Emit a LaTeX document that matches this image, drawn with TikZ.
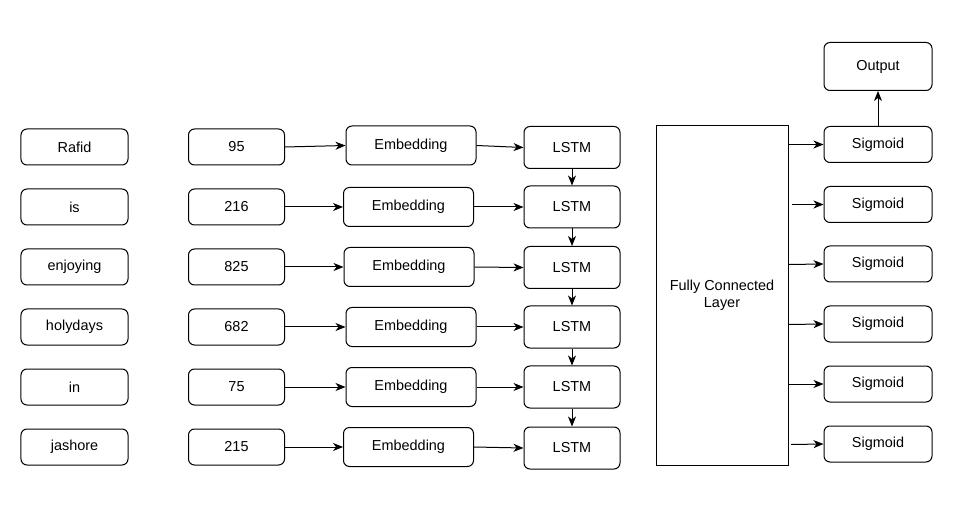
\documentclass[tikz,border=0pt]{standalone}
\usepackage{fontspec}
\setmainfont{Liberation Sans}
\usetikzlibrary{arrows.meta}
\begin{document}
\begin{tikzpicture}[x=1bp,y=-1bp,
  box/.style={draw, line width=1bp, rounded corners=6bp, inner sep=0pt, font=\fontsize{14.5}{17.5}\selectfont},
  word/.style={box, minimum width=107bp, minimum height=36bp},
  num/.style={box, minimum width=96bp, minimum height=36bp},
  emb/.style={box, minimum width=130bp, minimum height=39bp},
  lstm/.style={box, minimum width=96bp, minimum height=42bp},
  sig/.style={box, minimum width=108bp, minimum height=36bp},
  conn/.style={line width=1bp, -{Stealth[length=10bp,width=8bp,inset=3bp]}}
]
\useasboundingbox (0,0) rectangle (980,531);
% words
\node[word] (w1) at (74.5,147) {Rafid};
\node[word] (w2) at (74.5,207) {is};
\node[word] (w3) at (74.5,267) {enjoying};
\node[word] (w4) at (74.5,327) {holydays};
\node[word] (w5) at (74.5,387) {in};
\node[word] (w6) at (74.5,447) {jashore};
% numbers
\node[num] (n1) at (236.5,147) {95};
\node[num] (n2) at (236.5,207) {216};
\node[num] (n3) at (236.5,267) {825};
\node[num] (n4) at (236.5,327) {682};
\node[num] (n5) at (236.5,387) {75};
\node[num] (n6) at (236.5,447) {215};
% embeddings
\node[emb] (e1) at (411,145.5) {Embedding};
\node[emb] (e2) at (408.5,207) {Embedding};
\node[emb] (e3) at (409,267) {Embedding};
\node[emb] (e4) at (411,327) {Embedding};
\node[emb] (e5) at (411,387) {Embedding};
\node[emb] (e6) at (408.5,447) {Embedding};
% LSTMs
\node[lstm] (l1) at (572,147.5) {LSTM};
\node[lstm] (l2) at (572,207) {LSTM};
\node[lstm] (l3) at (572,267.5) {LSTM};
\node[lstm] (l4) at (572,327) {LSTM};
\node[lstm] (l5) at (572,387) {LSTM};
\node[lstm] (l6) at (572,448) {LSTM};
% FC layer
\node[draw, line width=1bp, minimum width=132bp, minimum height=339bp, inner sep=0pt,
  align=center, font=\fontsize{14.5}{17.5}\selectfont] (fc) at (722,295.5) {Fully Connected\\Layer};
% sigmoids
\node[sig] (s1) at (878,144.5) {Sigmoid};
\node[sig] (s2) at (878,204.5) {Sigmoid};
\node[sig] (s3) at (878,264) {Sigmoid};
\node[sig] (s4) at (878,324) {Sigmoid};
\node[sig] (s5) at (878,384) {Sigmoid};
\node[sig] (s6) at (878,444) {Sigmoid};
\node[box, minimum width=108bp, minimum height=48bp] (out) at (878,66.5) {Output};
% connectors
\foreach \i in {1,...,6}{
  \draw[conn] (n\i.east) -- (e\i.west);
  \draw[conn] (e\i.east) -- (l\i.west);
}
\draw[conn] (l1) -- (l2);
\draw[conn] (l2) -- (l3);
\draw[conn] (l3) -- (l4);
\draw[conn] (l4) -- (l5);
\draw[conn] (l5) -- (l6);
\coordinate (f1) at (788,144.5);
\coordinate (f2) at (791.5,204.5);
\coordinate (f3) at (788,264.5);
\coordinate (f4) at (788,324.5);
\coordinate (f5) at (789,384);
\coordinate (f6) at (791,444.5);
\foreach \i in {1,...,6}{
  \draw[conn] (f\i) -- (s\i.west);
}
\draw[conn] (s1) -- (out);
\end{tikzpicture}
\end{document}
